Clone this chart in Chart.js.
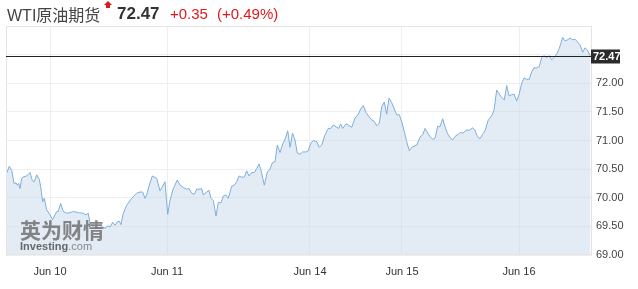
<!DOCTYPE html>
<html lang="zh">
<head>
<meta charset="UTF-8">
<title>WTI原油期货</title>
<script src="https://cdn.jsdelivr.net/npm/chart.js"></script>
<style>
  body { margin: 0; background: #fff; font-family: "Liberation Sans", Arial, "Noto Sans CJK SC", sans-serif; }
  #wrap { position: relative; width: 638px; height: 289px; }
  #wrap canvas { position: absolute; left: 0; top: 0; }
  .hd { position: absolute; top: 2px; line-height: 24px; white-space: nowrap; }
  #name { left: 7px; font-size: 16px; color: #444; }
  #name .cjk { font-family: "Noto Sans CJK SC", sans-serif; }
  #mark { position: absolute; left: 104px; top: 1px; width: 0; height: 0;
          border-left: 4px solid transparent; border-right: 4px solid transparent; border-bottom: 4px solid #e0191b; }
  #mark:after { content: ""; position: absolute; left: -2px; top: 4px; width: 4px; height: 3px; background: #e0191b; }
  #last { left: 117px; font-size: 17px; font-weight: bold; color: #333; }
  #chg { left: 170px; font-size: 15px; color: #e0191b; }
  #pct { left: 217px; font-size: 15px; color: #e0191b; }
</style>
</head>
<body>
<div id="wrap">
  <canvas id="wtiChart" width="638" height="289"></canvas>
  <span class="hd" id="name">WTI<span class="cjk">原油期货</span></span>
  <span id="mark"></span>
  <span class="hd" id="last"></span>
  <span class="hd" id="chg"></span>
  <span class="hd" id="pct"></span>
</div>

<script>
  // price readings, position along the session axis
  const t = [
    0.7, 3.3, 5.7, 8.0, 10.0, 11.3, 12.7, 14.0, 15.7, 18.0, 20.7, 24.0, 26.3, 28.3, 30.7, 33.3,
    34.7, 36.7, 38.3, 40.7, 44.0, 46.7, 49.0, 50.7, 52.3, 54.7, 57.3, 60.7, 64.0, 67.3, 72.3, 77.3,
    80.0, 82.3, 84.0, 87.3, 90.7, 95.7, 99.0, 102.3, 104.0, 106.7, 109.0, 111.3, 113.3, 115.0, 117.3, 120.7,
    125.7, 127.3, 130.7, 134.0, 136.7, 139.0, 140.7, 143.3, 146.3, 150.7, 154.0, 156.3, 159.0, 161.7, 164.0, 167.3,
    171.3, 174.0, 177.3, 180.7, 183.0, 185.7, 188.3, 190.7, 194.0, 195.7, 197.3, 200.7, 203.0, 205.0, 207.3, 210.0,
    212.3, 215.0, 217.3, 219.7, 222.3, 225.7, 228.3, 230.7, 233.0, 235.7, 238.3, 240.7, 243.0, 245.7, 248.3, 250.7,
    253.0, 255.0, 258.3, 261.3, 264.0, 266.3, 269.0, 271.3, 274.0, 276.7, 279.0, 281.7, 284.0, 286.5, 289.0, 291.3,
    294.0, 296.7, 300.0, 302.3, 304.7, 307.3, 310.7, 313.3, 315.7, 319.0, 322.3, 324.7, 327.3, 330.0, 332.7, 334.7,
    336.7, 340.0, 342.3, 345.7, 349.0, 352.3, 354.7, 357.3, 360.0, 363.3, 365.7, 368.0, 370.7, 373.3, 375.7, 378.3,
    380.7, 383.0, 385.7, 388.3, 390.7, 393.3, 395.7, 398.3, 400.7, 403.3, 405.7, 408.0, 410.7, 414.0, 416.7, 419.0,
    421.7, 424.0, 426.7, 429.0, 431.7, 434.0, 436.7, 439.0, 441.3, 444.0, 446.7, 449.0, 452.3, 454.7, 457.3, 460.0,
    463.3, 466.7, 469.0, 471.3, 474.0, 476.7, 479.0, 482.3, 485.7, 488.0, 490.7, 493.3, 495.7, 498.3, 500.7, 503.0,
    505.7, 508.0, 510.7, 513.0, 515.7, 518.0, 520.7, 523.3, 525.7, 528.0, 530.7, 533.3, 535.7, 538.0, 540.7, 543.3,
    545.7, 548.0, 550.7, 553.3, 556.7, 559.0, 561.7, 564.0, 566.7, 569.0, 571.7, 574.0, 576.7, 579.0, 581.3, 584.5
  ];
  const price = [
    70.43, 70.55, 70.48, 70.25, 70.26, 70.22, 70.25, 70.16, 70.34, 70.37, 70.38, 70.44, 70.30, 70.28, 70.40, 70.32,
    70.19, 69.93, 69.99, 69.79, 69.70, 69.62, 69.70, 69.76, 69.76, 69.90, 69.76, 69.73, 69.74, 69.76, 69.74, 69.73,
    69.70, 69.73, 69.55, 69.49, 69.47, 69.49, 69.47, 69.51, 69.49, 69.57, 69.52, 69.58, 69.59, 69.53, 69.73, 69.87,
    69.99, 70.02, 70.08, 70.10, 70.10, 69.99, 70.05, 70.22, 70.38, 70.34, 70.12, 70.19, 70.28, 69.71, 69.96, 70.16,
    70.31, 70.22, 70.18, 70.15, 70.16, 70.08, 70.06, 70.15, 70.15, 70.16, 70.05, 70.10, 70.13, 69.99, 69.95, 69.68,
    69.92, 69.91, 70.03, 70.05, 69.99, 70.20, 70.22, 70.28, 70.38, 70.36, 70.36, 70.47, 70.38, 70.44, 70.44, 70.51,
    70.59, 70.48, 70.22, 70.45, 70.50, 70.61, 70.63, 70.92, 70.79, 70.94, 71.02, 71.17, 70.88, 71.13, 71.01, 70.78,
    70.76, 70.80, 70.80, 70.82, 70.95, 71.00, 70.98, 70.88, 70.92, 71.10, 71.21, 71.21, 71.27, 71.24, 71.21, 71.29,
    71.21, 71.29, 71.27, 71.23, 71.39, 71.46, 71.55, 71.61, 71.49, 71.41, 71.36, 71.34, 71.26, 71.30, 71.59, 71.67,
    71.46, 71.74, 71.66, 71.55, 71.45, 71.45, 71.33, 71.15, 70.98, 70.82, 70.88, 70.90, 70.92, 71.06, 71.10, 71.21,
    71.13, 71.07, 71.02, 71.04, 71.25, 71.24, 71.38, 71.24, 71.13, 71.05, 71.01, 71.07, 71.11, 71.14, 71.13, 71.18,
    71.18, 71.22, 71.18, 71.07, 71.03, 71.11, 71.17, 71.36, 71.43, 71.53, 71.88, 71.81, 71.75, 71.71, 71.96, 71.78,
    71.80, 71.81, 71.69, 71.80, 72.00, 72.09, 72.07, 72.07, 72.20, 72.27, 72.27, 72.29, 72.45, 72.48, 72.45, 72.48,
    72.41, 72.45, 72.51, 72.61, 72.80, 72.74, 72.76, 72.79, 72.76, 72.77, 72.72, 72.67, 72.54, 72.62, 72.58, 72.47
  ];
  const dayTicks = [44, 161, 304, 396, 513];
  const dayLabels = ['Jun 10', 'Jun 11', 'Jun 14', 'Jun 15', 'Jun 16'];
  const lastPrice = 72.47;
  const change = 0.35;
  const changePct = 0.49;

  document.getElementById('last').textContent = lastPrice.toFixed(2);
  document.getElementById('chg').textContent = '+' + change.toFixed(2);
  document.getElementById('pct').textContent = '(+' + changePct.toFixed(2) + '%)';

  const points = t.map((x, i) => ({ x: x, y: price[i] }));

  // frame, last price line + tag, watermark
  const extras = {
    id: 'extras',
    afterDatasetsDraw(chart) {
      const ctx = chart.ctx;
      const a = chart.chartArea;
      const y = Math.round(chart.scales.y.getPixelForValue(lastPrice)) + 0.5;
      ctx.save();

      ctx.fillStyle = 'rgba(105,105,105,0.8)';
      ctx.font = 'bold 21px "Noto Sans CJK SC", sans-serif';
      ctx.textBaseline = 'alphabetic';
      ctx.fillText('英为财情', a.left + 14, 238);
      ctx.font = 'bold 11px "Liberation Sans", Arial, sans-serif';
      ctx.fillStyle = 'rgba(80,80,80,0.85)';
      ctx.fillText('Investing', a.left + 14, 250);
      const w = ctx.measureText('Investing').width;
      ctx.font = '11px "Liberation Sans", Arial, sans-serif';
      ctx.fillStyle = 'rgba(120,120,120,0.85)';
      ctx.fillText('.com', a.left + 14 + w, 250);

      ctx.strokeStyle = '#e4e4e4';
      ctx.lineWidth = 1;
      ctx.strokeRect(a.left + 0.5, a.top + 0.5, a.right - a.left - 1, a.bottom - a.top - 1);

      ctx.strokeStyle = '#222';
      ctx.beginPath();
      ctx.moveTo(a.left, y);
      ctx.lineTo(a.right, y);
      ctx.stroke();

      ctx.fillStyle = '#2b2b2b';
      ctx.fillRect(a.right - 1, y - 7, 29, 14);
      ctx.fillStyle = '#fff';
      ctx.font = 'bold 11px "Liberation Sans", Arial, sans-serif';
      ctx.textBaseline = 'middle';
      ctx.fillText(lastPrice.toFixed(2), a.right + 1, y + 0.5);
      ctx.restore();
    }
  };

  Chart.defaults.font.family = '"Liberation Sans", Arial, sans-serif';
  Chart.defaults.font.size = 11;
  Chart.defaults.color = '#444';

  new Chart(document.getElementById('wtiChart'), {
    type: 'line',
    data: {
      datasets: [{
        data: points,
        borderColor: '#7eaedc',
        backgroundColor: 'rgba(200,218,233,0.5)',
        borderWidth: 1,
        pointRadius: 0,
        fill: 'start',
        tension: 0
      }]
    },
    options: {
      responsive: false,
      animation: false,
      layout: { padding: { top: 26, left: 6, right: 0, bottom: 0 } },
      plugins: { legend: { display: false }, tooltip: { enabled: false } },
      scales: {
        x: {
          type: 'linear',
          min: 0,
          max: 586,
          afterBuildTicks: axis => { axis.ticks = dayTicks.map(v => ({ value: v })); },
          afterFit: axis => { axis.height = 34; },
          ticks: {
            autoSkip: false,
            maxRotation: 0,
            padding: 10,
            color: '#333',
            callback: (v, i) => dayLabels[i]
          },
          grid: { color: '#efefef', drawTicks: false },
          border: { display: false }
        },
        y: {
          position: 'right',
          min: 69,
          max: 73,
          afterFit: axis => { axis.width = 46; },
          ticks: {
            stepSize: 0.5,
            padding: 4,
            color: '#444',
            callback: v => (v >= 72.5 ? '' : v.toFixed(2))
          },
          grid: { color: '#efefef', drawTicks: false },
          border: { display: false }
        }
      }
    },
    plugins: [extras]
  });
</script>
</body>
</html>
